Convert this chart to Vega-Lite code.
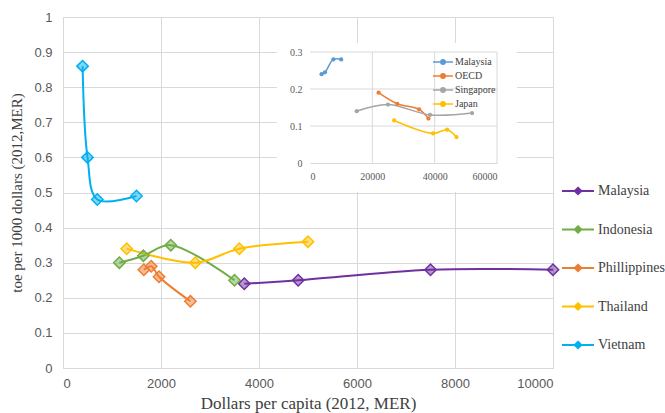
{
  "$schema": "https://vega.github.io/schema/vega-lite/v6.json",
  "width": 490,
  "height": 351,
  "autosize": "none",
  "padding": {"left": 63, "top": 17, "right": 112, "bottom": 45},
  "background": "white",
  "config": {
    "view": {"stroke": null},
    "font": "Liberation Serif",
    "axis": {"titleFont": "Liberation Serif", "titleFontWeight": "normal", "labelOverlap": false},
    "legend": {"labelFont": "Liberation Serif", "padding": 0}
  },
  "datasets": {
    "main": [
      {"country": "Malaysia", "gdp": 3700, "toe": 0.24},
      {"country": "Malaysia", "gdp": 4800, "toe": 0.25},
      {"country": "Malaysia", "gdp": 7500, "toe": 0.28},
      {"country": "Malaysia", "gdp": 10000, "toe": 0.28},
      {"country": "Indonesia", "gdp": 1150, "toe": 0.30},
      {"country": "Indonesia", "gdp": 1640, "toe": 0.32},
      {"country": "Indonesia", "gdp": 2200, "toe": 0.35},
      {"country": "Indonesia", "gdp": 3500, "toe": 0.25},
      {"country": "Phillippines", "gdp": 1650, "toe": 0.28},
      {"country": "Phillippines", "gdp": 1800, "toe": 0.29},
      {"country": "Phillippines", "gdp": 1960, "toe": 0.26},
      {"country": "Phillippines", "gdp": 2600, "toe": 0.19},
      {"country": "Thailand", "gdp": 1300, "toe": 0.34},
      {"country": "Thailand", "gdp": 2700, "toe": 0.30},
      {"country": "Thailand", "gdp": 3600, "toe": 0.34},
      {"country": "Thailand", "gdp": 5000, "toe": 0.36},
      {"country": "Vietnam", "gdp": 400, "toe": 0.86},
      {"country": "Vietnam", "gdp": 500, "toe": 0.60},
      {"country": "Vietnam", "gdp": 700, "toe": 0.48},
      {"country": "Vietnam", "gdp": 1500, "toe": 0.49}
    ],
    "inset": [
      {"series": "Malaysia", "gdp": 3700, "toe": 0.24},
      {"series": "Malaysia", "gdp": 4800, "toe": 0.245},
      {"series": "Malaysia", "gdp": 7500, "toe": 0.28},
      {"series": "Malaysia", "gdp": 10000, "toe": 0.28},
      {"series": "OECD", "gdp": 22000, "toe": 0.19},
      {"series": "OECD", "gdp": 28000, "toe": 0.16},
      {"series": "OECD", "gdp": 35000, "toe": 0.145},
      {"series": "OECD", "gdp": 38000, "toe": 0.12},
      {"series": "Singapore", "gdp": 15000, "toe": 0.14},
      {"series": "Singapore", "gdp": 25000, "toe": 0.158},
      {"series": "Singapore", "gdp": 38500, "toe": 0.13},
      {"series": "Singapore", "gdp": 52000, "toe": 0.135},
      {"series": "Japan", "gdp": 27000, "toe": 0.115},
      {"series": "Japan", "gdp": 39500, "toe": 0.08},
      {"series": "Japan", "gdp": 44000, "toe": 0.09},
      {"series": "Japan", "gdp": 47000, "toe": 0.07}
    ]
  },
  "layer": [
    {
      "data": {"name": "main"},
      "encoding": {
        "x": {"field": "gdp", "type": "quantitative", "scale": {"domain": [0, 10000], "nice": false},
          "axis": {"values": [0, 2000, 4000, 6000, 8000, 10000], "format": "d", "title": "Dollars per capita (2012, MER)",
            "grid": true, "gridColor": "#D9D9D9", "domainColor": "#D9D9D9", "ticks": false,
            "labelFont": "Liberation Sans", "labelFontSize": 13, "labelColor": "#595959", "labelPadding": 9,
            "titleFontSize": 17, "titleColor": "#404040", "titlePadding": 5, "zindex": 0}},
        "y": {"field": "toe", "type": "quantitative", "scale": {"domain": [0, 1], "nice": false},
          "axis": {"values": [0, 0.1, 0.2, 0.3, 0.4, 0.5, 0.6, 0.7, 0.8, 0.9, 1], "format": ".1~f", "title": "toe per 1000 dollars (2012,MER)",
            "grid": true, "gridColor": "#D9D9D9", "domainColor": "#D9D9D9", "ticks": false,
            "labelFont": "Liberation Sans", "labelFontSize": 13, "labelColor": "#595959", "labelPadding": 11,
            "titleFontSize": 15, "titleColor": "#404040", "titlePadding": 9, "zindex": 0}},
        "color": {"field": "country", "type": "nominal",
          "scale": {"domain": ["Malaysia", "Indonesia", "Phillippines", "Thailand", "Vietnam"],
            "range": ["#7030A0", "#70AD47", "#ED7D31", "#FFC000", "#00B0F0"]},
          "legend": {"orient": "none", "legendX": 498, "legendY": 157, "title": null,
            "symbolType": "M-1,0L1,0M0,-0.2L0.2,0L0,0.2L-0.2,0Z", "symbolSize": 1024, "symbolStrokeWidth": 2,
            "labelFontSize": 14, "labelColor": "#404040", "rowPadding": 13.5, "labelOffset": 3}}
      },
      "layer": [
        {
          "mark": {"type": "line", "interpolate": "catmull-rom", "strokeWidth": 2}
        },
        {
          "mark": {"type": "point", "shape": "diamond", "size": 130, "strokeWidth": 1.5, "fillOpacity": 0.5, "opacity": 1},
          "encoding": {
            "fill": {"field": "country", "type": "nominal",
              "scale": {"domain": ["Malaysia", "Indonesia", "Phillippines", "Thailand", "Vietnam"],
                "range": ["#7030A0", "#70AD47", "#ED7D31", "#FFC000", "#00B0F0"]}, "legend": null}
          }
        }
      ]
    },
    {
      "layer": [
        {
          "data": {"values": [{}]},
          "mark": {"type": "rect", "color": "white"},
          "encoding": {
            "x": {"datum": -10600, "type": "quantitative", "scale": {"domain": [0, 60000], "range": [247, 434], "nice": false, "zero": false},
              "axis": {"orient": "bottom", "offset": -205, "values": [0, 20000, 40000, 60000], "format": "d", "title": null,
                "grid": false, "ticks": false, "domainColor": "#D9D9D9", "labelFont": "Liberation Serif", "labelFontSize": 10, "labelColor": "#595959", "labelPadding": 8, "zindex": 1}},
            "x2": {"datum": 66400},
            "y": {"datum": -0.078, "type": "quantitative", "scale": {"domain": [0, 0.3], "range": [146, 35], "nice": false, "zero": false},
              "axis": {"orient": "left", "offset": -247, "values": [0, 0.1, 0.2, 0.3], "format": ".1~f", "title": null,
                "grid": false, "ticks": false, "domain": false, "labelFont": "Liberation Serif", "labelFontSize": 10, "labelColor": "#595959", "labelPadding": 8, "zindex": 1}},
            "y2": {"datum": 0.324}
          }
        },
        {
          "data": {"values": [{"gx": 20000}, {"gx": 40000}, {"gx": 60000}]},
          "mark": {"type": "rule", "color": "#D9D9D9", "strokeWidth": 1},
          "encoding": {
            "x": {"field": "gx", "type": "quantitative", "title": null},
            "y": {"datum": 0, "type": "quantitative", "title": null},
            "y2": {"datum": 0.3}
          }
        },
        {
          "data": {"values": [{"gy": 0.1}, {"gy": 0.2}, {"gy": 0.3}]},
          "mark": {"type": "rule", "color": "#D9D9D9", "strokeWidth": 1},
          "encoding": {
            "y": {"field": "gy", "type": "quantitative", "title": null},
            "x": {"datum": 0, "type": "quantitative", "title": null},
            "x2": {"datum": 60000}
          }
        },
        {
          "data": {"name": "inset"},
          "mark": {"type": "line", "interpolate": "catmull-rom", "strokeWidth": 1.5},
          "encoding": {
            "x": {"field": "gdp", "type": "quantitative", "title": null},
            "y": {"field": "toe", "type": "quantitative", "title": null},
            "color": {"field": "series", "type": "nominal",
              "scale": {"domain": ["Malaysia", "OECD", "Singapore", "Japan"], "range": ["#5B9BD5", "#ED7D31", "#A5A5A5", "#FFC000"]},
              "legend": {"orient": "none", "legendX": 373, "legendY": 38, "title": null,
                "symbolType": "M-1.667,0L1.667,0M-0.367,0A0.367,0.367,0,1,0,0.367,0A0.367,0.367,0,1,0,-0.367,0", "symbolSize": 144, "symbolStrokeWidth": 1.5,
                "labelFontSize": 10, "labelColor": "#404040", "rowPadding": 1, "labelOffset": 5}}
          }
        },
        {
          "data": {"name": "inset"},
          "mark": {"type": "circle", "size": 18, "opacity": 1},
          "encoding": {
            "x": {"field": "gdp", "type": "quantitative", "title": null},
            "y": {"field": "toe", "type": "quantitative", "title": null},
            "color": {"field": "series", "type": "nominal"}
          }
        }
      ]
    }
  ],
  "resolve": {"scale": {"x": "independent", "y": "independent", "color": "independent", "fill": "independent"}}
}
